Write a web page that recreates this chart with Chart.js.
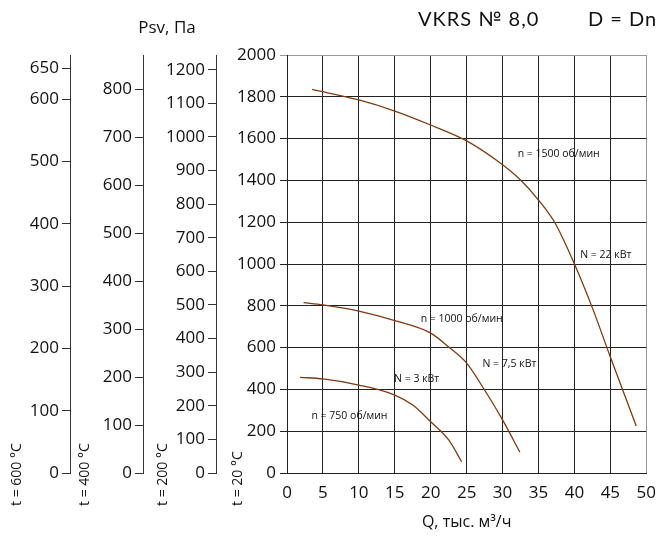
<!DOCTYPE html>
<html>
<head>
<meta charset="utf-8">
<script src="https://cdn.jsdelivr.net/npm/chart.js@4.4.1/dist/chart.umd.min.js"></script>
<style>
  html, body { margin: 0; padding: 0; background: #fff; }
  #box { width: 666px; height: 538px; }
</style>
</head>
<body>
<div id="box"><canvas id="myChart"></canvas></div>
<script>
// curves Psv(Q) at t = 20 °C, Q in тыс. м3/ч
const curve1500 = [[3.5, 1835], [10, 1785], [15, 1732], [20, 1665], [25, 1589], [29.4, 1490], [32.5, 1402], [35, 1306], [37.3, 1196], [40, 1000], [42.5, 790], [45, 555], [48.6, 225]];
const curve1000 = [[2.3, 815], [5, 804], [10, 775], [15, 729], [20, 669], [22.5, 603], [25, 526], [27.5, 397], [30, 254], [32.4, 100]];
const curve750 = [[1.8, 458], [5, 450], [10, 421], [15, 373], [17.5, 325], [20, 245], [22.5, 158], [24.3, 54]];

// curve captions, anchored in data coords (left edge, middle)
const captions = ["n = 1500 об/мин", "N = 22 кВт", "n = 1000 об/мин", "N = 7,5 кВт", "N = 3 кВт", "n = 750 об/мин"];
const captionX = [32.1, 40.8, 18.6, 27.2, 14.9, 3.4];
const captionY = [1526, 1043, 737, 521, 450, 273];

// pressure scales for the other temperatures
const ticks20 = [0, 200, 400, 600, 800, 1000, 1200, 1400, 1600, 1800, 2000];
const ticks200 = [0, 100, 200, 300, 400, 500, 600, 700, 800, 900, 1000, 1100, 1200];
const ticks400 = [0, 100, 200, 300, 400, 500, 600, 700, 800];
const ticks600 = [0, 100, 200, 300, 400, 500, 600, 650];
const max200 = 1244;
const max400 = 871;
const max600 = 671;
const xTicks = [0, 5, 10, 15, 20, 25, 30, 35, 40, 45, 50];

const FONT = "'Open Sans', sans-serif";
const brown = "#7b3c14";
const tickFont = { family: FONT, size: 17 };

function toPoints(arr) {
    return arr.map(p => ({ x: p[0], y: p[1] }));
}

function curve(arr) {
    return {
        data: toPoints(arr),
        borderColor: brown,
        borderWidth: 1.3,
        pointRadius: 0,
        cubicInterpolationMode: "monotone",
        fill: false
    };
}

function sideAxis(ticksList, max, weight, width) {
    return {
        type: "linear",
        position: "left",
        weight: weight,
        min: 0,
        max: max,
        afterBuildTicks: (scale) => { scale.ticks = ticksList.map(v => ({ value: v })); },
        afterFit: (scale) => { scale.width = width; },
        grid: { drawOnChartArea: false, drawTicks: true, tickLength: 8, color: "#333" },
        border: { display: true, color: "#333" },
        ticks: { font: tickFont, color: "#111", padding: 3, callback: (v) => String(v) }
    };
}

const textPlugin = {
    id: "texts",
    afterDraw(chart) {
        const ctx = chart.ctx;
        const xs = chart.scales.x;
        const ys = chart.scales.y;
        ctx.save();
        ctx.fillStyle = "#111";

        ctx.font = "10.5px " + FONT;
        ctx.textAlign = "left";
        ctx.textBaseline = "middle";
        for (let i = 0; i < captions.length; i++) {
            ctx.fillText(captions[i], xs.getPixelForValue(captionX[i]), ys.getPixelForValue(captionY[i]));
        }

        ctx.font = "20px Lato, sans-serif";
        ctx.letterSpacing = "1px";
        ctx.fillText("VKRS № 8,0", 418, 20);
        ctx.fillText("D = Dn", 588, 20);
        ctx.letterSpacing = "0px";

        ctx.font = "17px " + FONT;
        ctx.textAlign = "center";
        ctx.fillText("Psv, Па", 167, 28);

        ctx.font = "14px " + FONT;
        ctx.textAlign = "left";
        const rot = [["t = 600 °C", 17], ["t = 400 °C", 85], ["t = 200 °C", 163], ["t = 20 °C", 238]];
        rot.forEach(r => {
            ctx.save();
            ctx.translate(r[1], 506);
            ctx.rotate(-Math.PI / 2);
            ctx.fillText(r[0], 0, 0);
            ctx.restore();
        });
        ctx.restore();
    }
};

const ctx = document.getElementById("myChart").getContext("2d");

window.myChart = new Chart(ctx, {
    type: "line",
    data: {
        datasets: [curve(curve1500), curve(curve1000), curve(curve750)]
    },
    options: {
        responsive: true,
        maintainAspectRatio: false,
        animation: false,
        layout: { padding: { left: 0, right: 13, top: 55, bottom: 0 } },
        plugins: {
            legend: { display: false },
            tooltip: { enabled: false }
        },
        scales: {
            x: {
                type: "linear",
                min: 0,
                max: 50,
                afterBuildTicks: (scale) => { scale.ticks = xTicks.map(v => ({ value: v })); },
                afterFit: (scale) => { scale.height = 65; },
                grid: {
                    drawTicks: false,
                    color: (c) => c.index === xTicks.length - 1 ? "#999" : "#222"
                },
                border: { color: "#222" },
                ticks: { font: tickFont, color: "#111", padding: 10, callback: (v) => String(v) },
                title: {
                    display: true,
                    text: "Q, тыс. м³/ч",
                    font: { family: FONT, size: 16 },
                    color: "#111",
                    padding: { top: 2, bottom: 6 }
                }
            },
            y: {
                type: "linear",
                position: "left",
                weight: 0,
                min: 0,
                max: 2000,
                afterBuildTicks: (scale) => { scale.ticks = ticks20.map(v => ({ value: v })); },
                afterFit: (scale) => { scale.width = 71; },
                grid: {
                    tickLength: 7,
                    color: (c) => c.index === ticks20.length - 1 ? "#999" : "#222"
                },
                border: { color: "#222" },
                ticks: { font: tickFont, color: "#111", padding: 4, callback: (v) => String(v) }
            },
            y200: sideAxis(ticks200, max200, 1, 73),
            y400: sideAxis(ticks400, max400, 2, 73),
            y600: sideAxis(ticks600, max600, 3, 70)
        }
    },
    plugins: [textPlugin]
});
</script>
</body>
</html>
